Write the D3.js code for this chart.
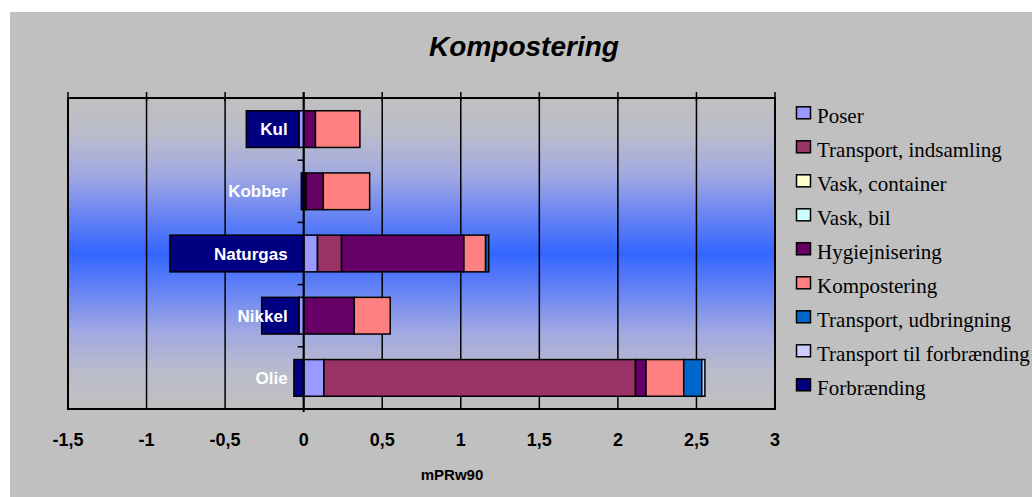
<!DOCTYPE html>
<html>
<head>
<meta charset="utf-8">
<script src="https://cdn.jsdelivr.net/npm/d3@7"></script>
<style>
  html, body { margin: 0; padding: 0; background: #ffffff; }
  svg { display: block; }
</style>
</head>
<body>
<svg id="chart" width="1032" height="497"></svg>
<script>
// ---- Data ----
const categories = ["Kul", "Kobber", "Naturgas", "Nikkel", "Olie"];
const seriesNames = [
  "Poser",
  "Transport, indsamling",
  "Vask, container",
  "Vask, bil",
  "Hygiejnisering",
  "Kompostering",
  "Transport, udbringning",
  "Transport til forbrænding",
  "Forbrænding"
];
// values per category, in the order of `categories`
const poser                  = [-0.030, 0.000, 0.088, -0.030, 0.129];
const transportIndsamling    = [ 0.000, 0.015, 0.153,  0.000, 1.983];
const vaskContainer          = [ 0.000, 0.000, 0.000,  0.000, 0.000];
const vaskBil                = [ 0.000, 0.000, 0.000,  0.000, 0.000];
const hygiejnisering         = [ 0.075, 0.110, 0.779,  0.322, 0.067];
const kompostering           = [ 0.283, 0.295, 0.138,  0.229, 0.240];
const transportUdbringning   = [ 0.000, 0.000, 0.020,  0.000, 0.115];
const transportForbraending  = [ 0.000, 0.000, 0.000,  0.000, 0.020];
const forbraending           = [-0.335,-0.015,-0.851, -0.237,-0.062];
const seriesValues = [poser, transportIndsamling, vaskContainer, vaskBil,
  hygiejnisering, kompostering, transportUdbringning, transportForbraending, forbraending];
const seriesColors = ["#9999ff", "#993366", "#ffffcc", "#ccffff", "#660066",
  "#ff8080", "#0066cc", "#ccccff", "#000080"];
const xTicks = [-1.5, -1, -0.5, 0, 0.5, 1, 1.5, 2, 2.5, 3];
const xTickLabels = ["-1,5", "-1", "-0,5", "0", "0,5", "1", "1,5", "2", "2,5", "3"];
const title = "Kompostering";
const xAxisTitle = "mPRw90";

// ---- Layout ----
const svg = d3.select("#chart");
const L = 68, R = 775, T = 98, B = 409;

svg.append("rect").attr("x", 10).attr("y", 12).attr("width", 1022).attr("height", 485)
  .attr("fill", "#c0c0c0");

const defs = svg.append("defs");
const grad = defs.append("linearGradient").attr("id", "plotGrad")
  .attr("x1", 0).attr("y1", 0).attr("x2", 0).attr("y2", 1);
[[0, "#c0c0c0"], [0.12, "#babccb"], [0.25, "#a0a8e2"], [0.36, "#7088f2"],
 [0.5, "#3366ff"], [0.64, "#7088f2"], [0.75, "#a0a8e2"], [0.88, "#babccb"], [1, "#c0c0c0"]]
  .forEach(([o, c]) => grad.append("stop").attr("offset", o).attr("stop-color", c));

svg.append("rect").attr("x", L).attr("y", T).attr("width", R - L).attr("height", B - T)
  .attr("fill", "url(#plotGrad)");

const x = d3.scaleLinear().domain([-1.5, 3]).range([L, R]);
const y = d3.scaleBand().domain(categories).range([T, B]).paddingInner(0.41).paddingOuter(0.205);

// gridlines
svg.append("g").selectAll("line").data(xTicks).join("line")
  .attr("x1", d => x(d)).attr("x2", d => x(d)).attr("y1", T).attr("y2", B)
  .attr("stroke", "#000").attr("stroke-width", 1.5);

// stacked bars
const rows = categories.map((c, i) => {
  const o = { cat: c };
  seriesNames.forEach((s, j) => { o[s] = seriesValues[j][i]; });
  return o;
});
const stack = d3.stack().keys(seriesNames).offset(d3.stackOffsetDiverging);
const stacked = stack(rows);

const barG = svg.append("g");
stacked.forEach((layer, j) => {
  barG.append("g").selectAll("rect")
    .data(layer.filter(d => Math.abs(d[1] - d[0]) > 1e-9))
    .join("rect")
    .attr("x", d => x(Math.min(d[0], d[1])))
    .attr("width", d => Math.abs(x(d[1]) - x(d[0])))
    .attr("y", d => y(d.data.cat))
    .attr("height", y.bandwidth())
    .attr("fill", seriesColors[j])
    .attr("stroke", "#000").attr("stroke-width", 1.5);
});

// plot border
svg.append("rect").attr("x", L).attr("y", T).attr("width", R - L).attr("height", B - T)
  .attr("fill", "none").attr("stroke", "#000").attr("stroke-width", 2);

// top tick marks
svg.append("g").selectAll("line").data(xTicks).join("line")
  .attr("x1", d => x(d)).attr("x2", d => x(d)).attr("y1", T - 6).attr("y2", T + 3)
  .attr("stroke", "#000").attr("stroke-width", 1.5);

// category (zero) axis
const step = y.step();
const bounds = d3.range(categories.length + 1).map(i => T + i * step);
svg.append("line").attr("x1", x(0)).attr("x2", x(0)).attr("y1", T - 6).attr("y2", B + 3)
  .attr("stroke", "#000").attr("stroke-width", 2);
svg.append("g").selectAll("line").data(bounds).join("line")
  .attr("x1", x(0) - 6).attr("x2", x(0)).attr("y1", d => d).attr("y2", d => d)
  .attr("stroke", "#000").attr("stroke-width", 1.5);

// category labels
svg.append("g").selectAll("text").data(categories).join("text")
  .attr("x", x(0) - 16).attr("y", d => y(d) + y.bandwidth() / 2)
  .attr("dy", "0.36em")
  .attr("text-anchor", "end")
  .attr("font-family", "Liberation Sans, Arial, sans-serif")
  .attr("font-weight", "bold").attr("font-size", 17).attr("fill", "#fff")
  .text(d => d);

// x tick labels
svg.append("g").selectAll("text").data(xTicks).join("text")
  .attr("x", d => x(d)).attr("y", 446)
  .attr("text-anchor", "middle")
  .attr("font-family", "Liberation Sans, Arial, sans-serif")
  .attr("font-weight", "bold").attr("font-size", 18).attr("fill", "#000")
  .text((d, i) => xTickLabels[i]);

// axis title
svg.append("text").attr("x", 452).attr("y", 480).attr("text-anchor", "middle")
  .attr("font-family", "Liberation Sans, Arial, sans-serif")
  .attr("font-weight", "bold").attr("font-size", 15).text(xAxisTitle);

// title
svg.append("text").attr("x", 524).attr("y", 56).attr("text-anchor", "middle")
  .attr("font-family", "Liberation Sans, Arial, sans-serif")
  .attr("font-weight", "bold").attr("font-style", "italic").attr("font-size", 28)
  .text(title);

// legend
const lg = svg.append("g");
seriesNames.forEach((s, i) => {
  const by = 123.3 + i * 34;
  lg.append("rect").attr("x", 796.5).attr("y", by - 16.5).attr("width", 14).attr("height", 12)
    .attr("fill", seriesColors[i]).attr("stroke", "#000").attr("stroke-width", 1.5);
  lg.append("text").attr("x", 817).attr("y", by)
    .attr("font-family", "Liberation Serif, Times New Roman, serif")
    .attr("font-size", 21).attr("fill", "#000").text(s);
});
</script>
</body>
</html>
